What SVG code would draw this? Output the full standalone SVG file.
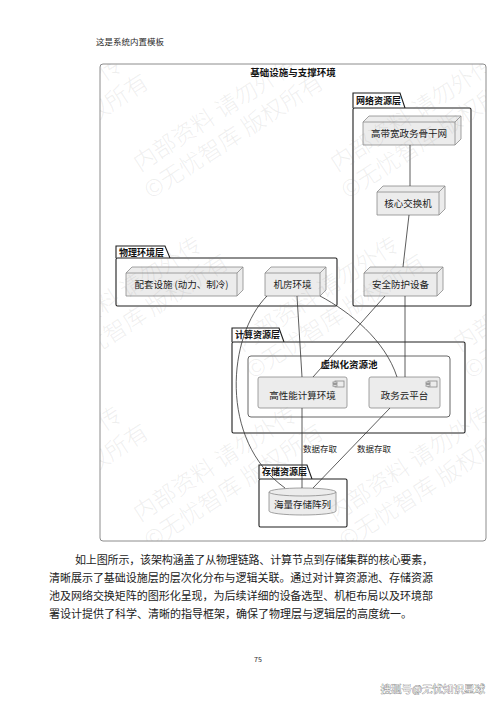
<svg xmlns="http://www.w3.org/2000/svg" width="500" height="707" viewBox="0 0 500 707">
<style>
.page{font-family:"Noto Sans CJK SC","Noto Sans",sans-serif;fill:#2a2a2a}
.frame{fill:#fff;stroke:#8c8c8c;stroke-width:1}
.pkg{fill:#fff;stroke:#1e1e1e;stroke-width:1.1}
.pool{fill:#fff;stroke:#555;stroke-width:0.9}
.node{fill:#ececec;stroke:#8a8a8a;stroke-width:0.8}
.nl{fill:none;stroke:#8a8a8a;stroke-width:0.8}
.lbl{font-family:"Noto Sans CJK SC","Noto Sans",sans-serif;font-size:9.5px;fill:#222;text-anchor:middle}
.plbl{font-family:"Noto Sans CJK SC","Noto Sans",sans-serif;font-size:9px;font-weight:bold;fill:#111}
.title{font-family:"Noto Sans CJK SC","Noto Sans",sans-serif;font-size:9.5px;font-weight:bold;fill:#111;text-anchor:middle}
.edge{fill:none;stroke:#333;stroke-width:0.8}
.elbl{font-family:"Noto Sans CJK SC","Noto Sans",sans-serif;font-size:8.5px;fill:#222;text-anchor:middle}
.wm{font-family:"Noto Sans CJK SC","Noto Sans",sans-serif;font-size:23px;font-weight:300;fill:#7a7a7a;fill-opacity:0.12}
.para{font-family:"Noto Sans CJK SC",serif;font-size:11px;fill:#222}
</style>
<defs>
<clipPath id="fc"><rect x="100" y="64" width="386" height="477"/></clipPath>
<g id="wmt">
<text class="wm" x="0" y="0">内部资料 请勿外传</text>
<text class="wm" x="-6" y="29">©无忧智库 版权所有</text>
</g>
</defs>

<text class="page" x="96" y="45" font-size="8.5">这是系统内置模板</text>

<rect class="frame" x="100" y="64" width="386" height="477" rx="3"/>
<text class="title" x="293" y="76">基础设施与支撑环境</text>

<g id="pkg-network">
<path class="pkg" d="M353,108 L353,93 L400,93 L405,108"/>
<rect class="pkg" x="353" y="108" width="118" height="198" rx="1.5"/>
<text class="plbl" x="356" y="104">网络资源层</text>
</g>
<g id="pkg-physical">
<path class="pkg" d="M116,258 L116,246 L165,246 L170,258"/>
<rect class="pkg" x="116" y="258" width="221" height="48" rx="1.5"/>
<text class="plbl" x="119" y="256">物理环境层</text>
</g>
<g id="pkg-compute">
<path class="pkg" d="M232,342 L232,328 L279,328 L284,342"/>
<rect class="pkg" x="232" y="342" width="233" height="91" rx="1.5"/>
<text class="plbl" x="235" y="338">计算资源层</text>
</g>
<g id="pkg-storage">
<path class="pkg" d="M259,479 L259,465 L307,465 L312,479"/>
<rect class="pkg" x="259" y="479" width="88" height="48" rx="1.5"/>
<text class="plbl" x="262" y="475">存储资源层</text>
</g>

<g id="pool">
<rect class="pool" x="248" y="356" width="202" height="61" rx="3"/>
<text class="title" x="349" y="368">虚拟化资源池</text>
</g>

<g id="n-backbone">
<path class="node" d="M363,122 L369,116 L461,116 L461,139 L455,145 L363,145 Z"/>
<path class="nl" d="M363,122 L455,122 L461,116 M455,122 L455,145"/>
<text class="lbl" x="409" y="137">高带宽政务骨干网</text>
</g>
<g id="n-core">
<path class="node" d="M377,192 L383,186 L445,186 L445,209 L439,215 L377,215 Z"/>
<path class="nl" d="M377,192 L439,192 L445,186 M439,192 L439,215"/>
<text class="lbl" x="408" y="207">核心交换机</text>
</g>
<g id="n-security">
<path class="node" d="M364,273 L370,267 L443,267 L443,290 L437,296 L364,296 Z"/>
<path class="nl" d="M364,273 L437,273 L443,267 M437,273 L437,296"/>
<text class="lbl" x="400.5" y="288">安全防护设备</text>
</g>
<g id="n-facility">
<path class="node" d="M126,273 L132,267 L243,267 L243,290 L237,296 L126,296 Z"/>
<path class="nl" d="M126,273 L237,273 L243,267 M237,273 L237,296"/>
<text class="lbl" x="181.5" y="288">配套设施 (动力、制冷)</text>
</g>
<g id="n-room">
<path class="node" d="M265,273 L271,267 L326,267 L326,290 L320,296 L265,296 Z"/>
<path class="nl" d="M265,273 L320,273 L326,267 M320,273 L320,296"/>
<text class="lbl" x="292.5" y="288">机房环境</text>
</g>
<g id="n-hpc">
<rect class="node" x="258" y="377" width="89" height="31" rx="2"/>
<rect class="node" x="335" y="381" width="9" height="6"/>
<rect class="node" x="333" y="382" width="4" height="1.6"/>
<rect class="node" x="333" y="384.6" width="4" height="1.6"/>
<text class="lbl" x="302.5" y="399">高性能计算环境</text>
</g>
<g id="n-cloud">
<rect class="node" x="369" y="377" width="71" height="31" rx="2"/>
<rect class="node" x="428" y="381" width="9" height="6"/>
<rect class="node" x="426" y="382" width="4" height="1.6"/>
<rect class="node" x="426" y="384.6" width="4" height="1.6"/>
<text class="lbl" x="404.5" y="399">政务云平台</text>
</g>
<g id="n-storage">
<path class="node" d="M269,492 A33.5,4 0 0 1 336,492 L336,511 A33.5,4 0 0 1 269,511 Z"/>
<path class="nl" d="M269,492 A33.5,4 0 0 0 336,492"/>
<text class="lbl" x="302.5" y="508">海量存储阵列</text>
</g>

<g id="connectors">
<path class="edge" d="M410,145 L410,186"/>
<path class="edge" d="M409,215 L403,267"/>
<path class="edge" d="M405,296 L405,377"/>
<path class="edge" d="M385,296 L313,377"/>
<path class="edge" d="M297,296 L302,377"/>
<path class="edge" d="M320,296 C350,312 385,340 397,377"/>
<path class="edge" d="M267,296 C228,335 218,440 285,488"/>
<path class="edge" d="M302,408 L302,488"/>
<path class="edge" d="M390,408 L313,488"/>
<text class="elbl" x="320" y="452">数据存取</text>
<text class="elbl" x="374" y="452">数据存取</text>
</g>

<g id="watermark" clip-path="url(#fc)">
<use href="#wmt" transform="translate(-35,172) rotate(-33)"/>
<use href="#wmt" transform="translate(140,172) rotate(-33)"/>
<use href="#wmt" transform="translate(337,172) rotate(-33)"/>
<use href="#wmt" transform="translate(45,352) rotate(-33)"/>
<use href="#wmt" transform="translate(242,352) rotate(-33)"/>
<use href="#wmt" transform="translate(460,352) rotate(-33)"/>
<use href="#wmt" transform="translate(-35,522) rotate(-33)"/>
<use href="#wmt" transform="translate(140,522) rotate(-33)"/>
<use href="#wmt" transform="translate(335,522) rotate(-33)"/>
</g>

<g id="text-body">
<text class="para" x="75" y="564" textLength="358" lengthAdjust="spacing">如上图所示，该架构涵盖了从物理链路、计算节点到存储集群的核心要素，</text>
<text class="para" x="49" y="582" textLength="384" lengthAdjust="spacing">清晰展示了基础设施层的层次化分布与逻辑关联。通过对计算资源池、存储资源</text>
<text class="para" x="49" y="600" textLength="384" lengthAdjust="spacing">池及网络交换矩阵的图形化呈现，为后续详细的设备选型、机柜布局以及环境部</text>
<text class="para" x="49" y="618">署设计提供了科学、清晰的指导框架，确保了物理层与逻辑层的高度统一。</text>
</g>

<text class="page" x="258" y="662" font-size="7" text-anchor="middle">75</text>
<text x="485" y="693" text-anchor="end" font-family="Noto Sans CJK SC, sans-serif" font-size="10.5" fill="#f6f6f6" stroke="#707070" stroke-width="0.6" paint-order="stroke">搜狐号@无忧知识星球</text>
</svg>
